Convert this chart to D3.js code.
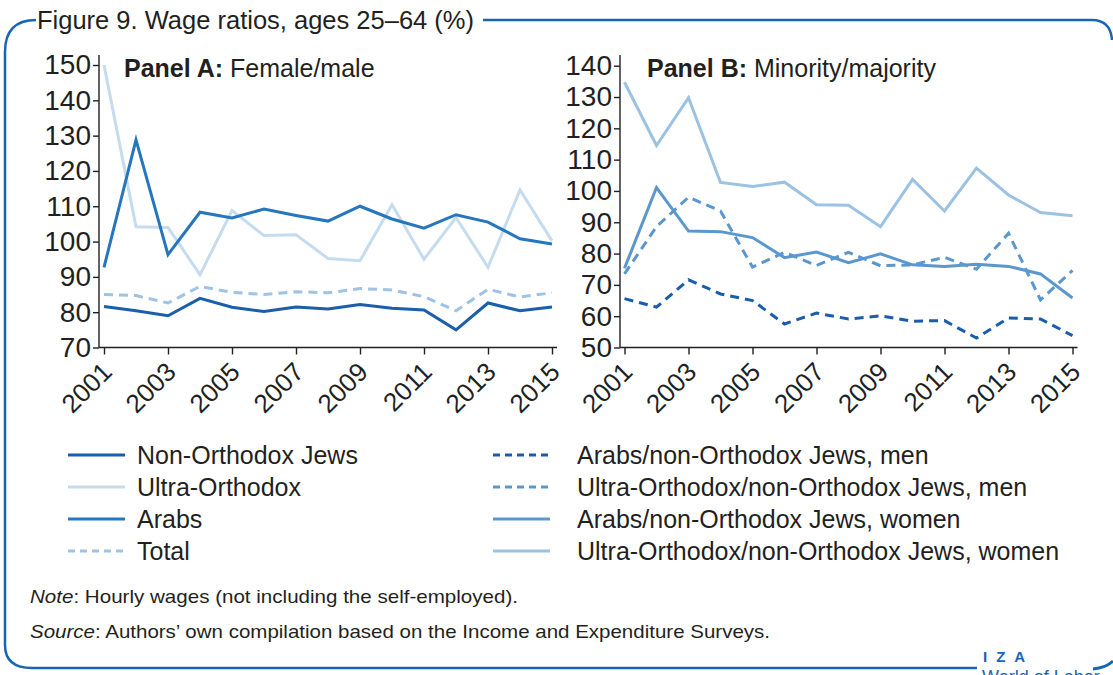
<!DOCTYPE html>
<html>
<head>
<meta charset="utf-8">
<script src="https://cdn.jsdelivr.net/npm/d3@7"></script>
<style>
  html, body { margin: 0; padding: 0; background: #fff; }
  svg { display: block; }
  text { font-family: "Liberation Sans", Arial, sans-serif; fill: #231f20; }
</style>
</head>
<body>
<svg id="chart" width="1113" height="675"></svg>
<script>
// ---------- data ----------
const years = [2001,2002,2003,2004,2005,2006,2007,2008,2009,2010,2011,2012,2013,2014,2015];
const xTickYears = [2001,2003,2005,2007,2009,2011,2013,2015];

// Panel A: Female/male wage ratio (%)
const nonOrthodoxJews = [81.6,80.4,79.0,83.9,81.4,80.2,81.5,80.9,82.2,81.1,80.6,75.0,82.6,80.4,81.5];
const ultraOrthodox   = [150.0,104.2,104.0,90.6,108.8,101.7,101.9,95.2,94.6,110.4,95.0,106.8,92.7,114.6,100.2];
const arabs           = [92.7,128.8,96.3,108.3,106.7,109.2,107.4,105.8,110.0,106.4,103.8,107.6,105.5,100.8,99.3];
const total           = [85.0,84.7,82.6,87.3,85.6,85.0,85.8,85.5,86.7,86.3,84.4,80.4,86.5,84.3,85.5];
const yTicksA = [70,80,90,100,110,120,130,140,150];

// Panel B: Minority/majority wage ratio (%)
const arabsMen       = [65.6,62.9,71.6,67.1,65.0,57.5,61.0,59.1,60.1,58.4,58.6,53.0,59.4,59.1,53.8];
const ultraOrthMen   = [73.5,88.6,98.0,93.6,75.7,80.4,76.2,80.4,76.1,76.4,78.8,75.0,86.5,65.2,74.6];
const arabsWomen     = [75.3,101.1,87.2,87.0,85.1,78.7,80.5,77.1,79.9,76.4,75.9,76.6,75.9,73.5,65.8];
const ultraOrthWomen = [134.7,114.5,129.8,102.7,101.4,102.8,95.6,95.4,88.6,103.7,93.6,107.3,98.7,93.1,92.1];
const yTicksB = [50,60,70,80,90,100,110,120,130,140];

const seriesA = [
  {name:"Non-Orthodox Jews", values:nonOrthodoxJews, color:"#1b5ea9", dash:null},
  {name:"Ultra-Orthodox",    values:ultraOrthodox,   color:"#c5dcee", dash:null},
  {name:"Arabs",             values:arabs,           color:"#2676bd", dash:null},
  {name:"Total",             values:total,           color:"#9ec3e4", dash:"9,6"}
];
const seriesB = [
  {name:"Arabs/non-Orthodox Jews, men",         values:arabsMen,       color:"#1a5eab", dash:"9,6"},
  {name:"Ultra-Orthodox/non-Orthodox Jews, men",values:ultraOrthMen,   color:"#5b97cf", dash:"9,6"},
  {name:"Arabs/non-Orthodox Jews, women",       values:arabsWomen,     color:"#5b97cf", dash:null},
  {name:"Ultra-Orthodox/non-Orthodox Jews, women",values:ultraOrthWomen,color:"#9cc2e3", dash:null}
];

// ---------- drawing ----------
const svg = d3.select("#chart");
const frameColor = "#1766b5";
const FONT = '"Liberation Sans", Arial, sans-serif';

// frame
const frame = d3.path();
frame.moveTo(36, 20);
frame.bezierCurveTo(14, 20, 5, 32, 5, 52);
frame.lineTo(5, 645);
frame.bezierCurveTo(5, 660, 14, 668, 32, 668);
frame.lineTo(977, 668);
svg.append("path").attr("d", frame.toString()).attr("fill","none")
  .attr("stroke", frameColor).attr("stroke-width", 2.5);
const frame2 = d3.path();
frame2.moveTo(483, 20);
frame2.lineTo(1092, 20);
frame2.bezierCurveTo(1104, 20, 1111, 26, 1112, 40);
svg.append("path").attr("d", frame2.toString()).attr("fill","none")
  .attr("stroke", frameColor).attr("stroke-width", 2.5);
const frame3 = d3.path();
frame3.moveTo(1093, 669);
frame3.bezierCurveTo(1103, 668, 1109, 665, 1113, 661);
svg.append("path").attr("d", frame3.toString()).attr("fill","none")
  .attr("stroke", frameColor).attr("stroke-width", 3);

svg.append("text").attr("x", 37).attr("y", 29)
  .style("font-size","25.5px").text("Figure 9. Wage ratios, ages 25–64 (%)");

function drawPanel(cfg) {
  const g = svg.append("g");
  const x = d3.scaleLinear().domain([2001, 2015]).range(cfg.xRange);
  const y = d3.scaleLinear().domain(cfg.yDomain).range([347.5, cfg.yTop]);
  const axisY = 347.5;

  // y axis
  const ya = g.append("g").attr("transform", `translate(${cfg.axisX},0)`)
    .call(d3.axisLeft(y).tickValues(cfg.yTicks).tickSize(6).tickPadding(2));
  ya.select(".domain").remove();
  ya.append("line").attr("x1",0).attr("x2",0).attr("y1",55).attr("y2",axisY)
    .attr("stroke","#231f20").attr("stroke-width",1.4);
  ya.selectAll(".tick line").attr("stroke","#231f20").attr("stroke-width",1.4);
  ya.selectAll(".tick text").style("font-size","28px").style("font-family",FONT)
    .attr("fill","#231f20");

  // x axis
  const xa = g.append("g").attr("transform", `translate(0,${axisY})`)
    .call(d3.axisBottom(x).tickValues(xTickYears).tickFormat(d3.format("d")).tickSize(7));
  xa.select(".domain").remove();
  xa.append("line").attr("x1",cfg.axisX).attr("x2",cfg.xRange[1]+5).attr("y1",0).attr("y2",0)
    .attr("stroke","#231f20").attr("stroke-width",1.4);
  xa.selectAll(".tick line").attr("stroke","#231f20").attr("stroke-width",1.4);
  xa.selectAll(".tick text")
    .style("font-size","26px").style("font-family",FONT)
    .attr("fill","#231f20")
    .attr("y", 0).attr("dy", 0)
    .attr("text-anchor","end")
    .attr("transform","translate(9,26) rotate(-45)");

  // lines
  const line = d3.line().x((d,i) => x(years[i])).y(d => y(d));
  cfg.series.forEach(s => {
    g.append("path").datum(s.values).attr("d", line)
      .attr("fill","none").attr("stroke", s.color).attr("stroke-width", 3)
      .attr("stroke-dasharray", s.dash).attr("stroke-linejoin","miter");
  });

  // panel title
  const t = g.append("text").attr("x", cfg.titleX).attr("y", 77).style("font-size","25px");
  t.append("tspan").style("font-weight","bold").text(cfg.titleBold);
  t.append("tspan").text(" " + cfg.titleRest);
}

// draw order: lighter behind
drawPanel({
  xRange:[104, 552], axisX: 99, yDomain:[70,150], yTop: 65, yTicks: yTicksA,
  series:[seriesA[1], seriesA[3], seriesA[2], seriesA[0]],
  titleX: 124, titleBold: "Panel A:", titleRest: "Female/male"
});
drawPanel({
  xRange:[624.5, 1072.5], axisX: 620, yDomain:[50,140], yTop: 65.7, yTicks: yTicksB,
  series:[seriesB[3], seriesB[1], seriesB[2], seriesB[0]],
  titleX: 647, titleBold: "Panel B:", titleRest: "Minority/majority"
});

// legends
function drawLegend(series, x0, textX) {
  const rows = [455, 487, 519, 551];
  series.forEach((s, i) => {
    svg.append("line").attr("x1", x0).attr("x2", x0 + 57).attr("y1", rows[i]).attr("y2", rows[i])
      .attr("stroke", s.color).attr("stroke-width", 3).attr("stroke-dasharray", s.dash ? "7,5" : null);
    svg.append("text").attr("x", textX).attr("y", rows[i] + 9).style("font-size","25px").text(s.name);
  });
}
drawLegend(seriesA, 68, 137);
drawLegend(seriesB, 493, 577);

// notes
const note = svg.append("text").attr("x", 30).attr("y", 603).style("font-size","19px")
  .attr("textLength", 488).attr("lengthAdjust","spacingAndGlyphs");
note.append("tspan").style("font-style","italic").text("Note");
note.append("tspan").text(": Hourly wages (not including the self-employed).");
const src = svg.append("text").attr("x", 30).attr("y", 638).style("font-size","19px")
  .attr("textLength", 740).attr("lengthAdjust","spacingAndGlyphs");
src.append("tspan").style("font-style","italic").text("Source");
src.append("tspan").text(": Authors’ own compilation based on the Income and Expenditure Surveys.");

// logo
svg.append("text").attr("x", 983).attr("y", 662).style("font-size","15px").style("font-weight","bold")
  .style("fill", frameColor).attr("letter-spacing","9px").text("IZA");
svg.append("text").attr("x", 982).attr("y", 683).style("font-size","18px")
  .style("fill", frameColor).text("World of Labor");
</script>
</body>
</html>
